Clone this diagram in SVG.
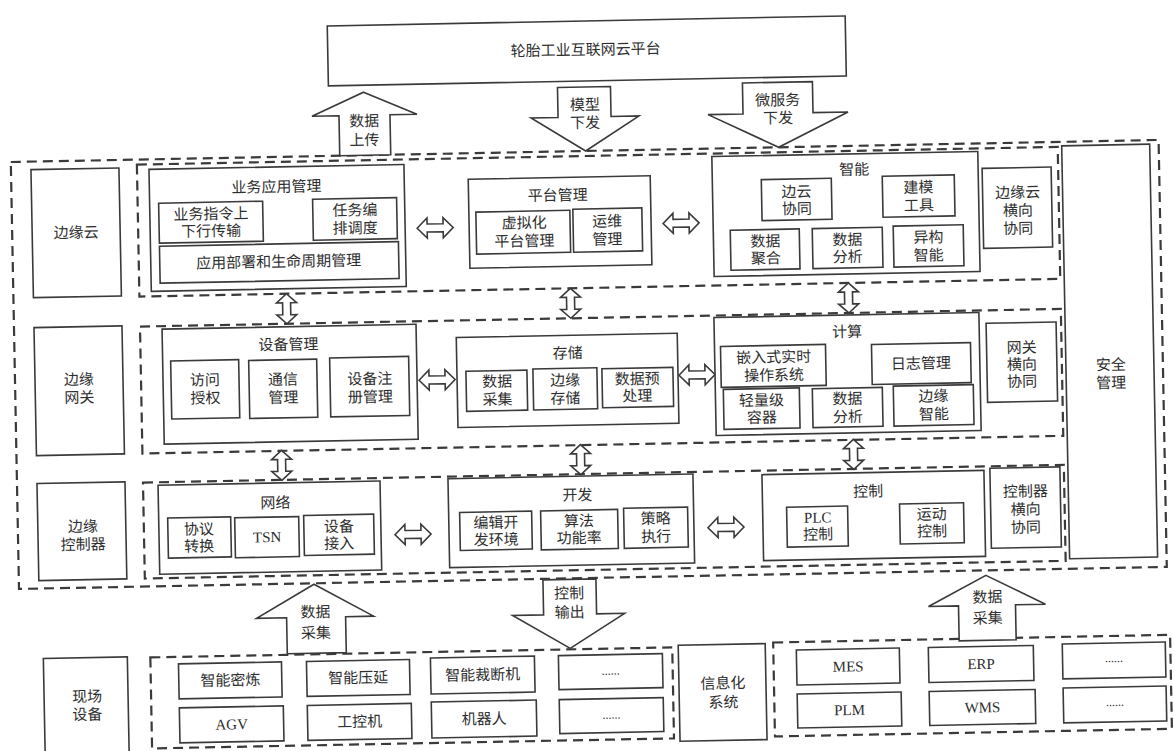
<svg xmlns="http://www.w3.org/2000/svg" width="1174" height="751" viewBox="0 0 1174 751">
<style>
.b{fill:none;stroke:#3a3a3a;stroke-width:1.6}
.d{fill:none;stroke:#3a3a3a;stroke-width:2.2;stroke-dasharray:10 6}
.a{fill:#fff;stroke:#3a3a3a;stroke-width:1.6;stroke-linejoin:miter}
.t{font-family:'Liberation Serif','Noto Sans CJK SC',serif;font-size:15px;fill:#2e2e2e;text-anchor:middle;dominant-baseline:central}
.dots{font-size:12px}
</style>
<defs>
<path id="ha" class="a" d="M-18 0 L-8 -10 L-8 -4 L8 -4 L8 -10 L18 0 L8 10 L8 4 L-8 4 L-8 10 Z"/>
<path id="va" class="a" d="M0 -15 L10 -6 L4 -6 L4 6 L10 6 L0 15 L-10 6 L-4 6 L-4 -6 L-10 -6 Z"/>
</defs>
<rect width="1174" height="751" fill="#fff"/>
<g transform="rotate(-1.1 587 375)">
<g id="nodes">
<g id="cloud-platform"><rect class="b" x="334" y="21" width="518" height="60"/><text class="t" x="592" y="50">轮胎工业互联网云平台</text></g>

<g id="edge-zone"><rect class="d" x="15" y="151" width="1148" height="427"/></g>
<g id="row-cloud"><rect class="d" x="141" y="156" width="921" height="132"/></g>
<g id="row-gateway"><rect class="d" x="141" y="318" width="921" height="127"/></g>
<g id="row-controller"><rect class="d" x="141" y="474" width="921" height="96"/></g>

<g id="label-edge-cloud"><rect class="b" x="35" y="159" width="88" height="128"/><text class="t" x="79" y="223">边缘云</text></g>
<g id="label-edge-gateway"><rect class="b" x="35" y="317" width="88" height="128"/><text class="t"><tspan x="79" y="370">边缘</tspan><tspan x="79" y="388">网关</tspan></text></g>
<g id="label-edge-controller"><rect class="b" x="35" y="473" width="88" height="97"/><text class="t"><tspan x="80" y="517">边缘</tspan><tspan x="80" y="535">控制器</tspan></text></g>

<g id="app-mgmt"><rect class="b" x="153" y="161" width="255" height="122"/><text class="t" x="280" y="181">业务应用管理</text>
 <g id="biz-cmd"><rect class="b" x="162" y="195" width="104" height="40"/><text class="t"><tspan x="214" y="207">业务指令上</tspan><tspan x="214" y="224">下行传输</tspan></text></g>
 <g id="task-sched"><rect class="b" x="316" y="194" width="84" height="41"/><text class="t"><tspan x="358" y="206">任务编</tspan><tspan x="358" y="224">排调度</tspan></text></g>
 <g id="app-deploy"><rect class="b" x="162" y="238" width="239" height="37"/><text class="t" x="281" y="256">应用部署和生命周期管理</text></g>
</g>

<g id="platform-mgmt"><rect class="b" x="472" y="177" width="182" height="89"/><text class="t" x="561" y="195">平台管理</text>
 <g id="virt"><rect class="b" x="479" y="210" width="94" height="42"/><text class="t"><tspan x="527" y="222">虚拟化</tspan><tspan x="527" y="240">平台管理</tspan></text></g>
 <g id="ops"><rect class="b" x="576" y="209" width="69" height="43"/><text class="t"><tspan x="610" y="222">运维</tspan><tspan x="610" y="240">管理</tspan></text></g>
</g>

<g id="intelligence"><rect class="b" x="716" y="159" width="266" height="120"/><text class="t" x="858" y="175">智能</text>
 <g id="edge-cloud-coop"><rect class="b" x="765" y="183" width="70" height="41"/><text class="t"><tspan x="800" y="196">边云</tspan><tspan x="800" y="213">协同</tspan></text></g>
 <g id="modeling"><rect class="b" x="886" y="182" width="72" height="41"/><text class="t"><tspan x="922" y="194">建模</tspan><tspan x="922" y="212">工具</tspan></text></g>
 <g id="data-agg"><rect class="b" x="733" y="233" width="69" height="40"/><text class="t"><tspan x="768" y="245">数据</tspan><tspan x="768" y="262">聚合</tspan></text></g>
 <g id="data-analysis-1"><rect class="b" x="815" y="233" width="70" height="40"/><text class="t"><tspan x="850" y="245">数据</tspan><tspan x="850" y="262">分析</tspan></text></g>
 <g id="hetero"><rect class="b" x="896" y="232" width="70" height="41"/><text class="t"><tspan x="931" y="244">异构</tspan><tspan x="931" y="262">智能</tspan></text></g>
</g>

<g id="cloud-horiz"><rect class="b" x="986" y="176" width="69" height="80"/><text class="t"><tspan x="1021" y="201">边缘云</tspan><tspan x="1021" y="219">横向</tspan><tspan x="1021" y="237">协同</tspan></text></g>

<g id="security"><rect class="b" x="1066" y="155" width="88" height="413"/><text class="t"><tspan x="1111" y="375">安全</tspan><tspan x="1111" y="393">管理</tspan></text></g>

<g id="device-mgmt"><rect class="b" x="163" y="321" width="254" height="115"/><text class="t" x="289" y="339">设备管理</text>
 <g id="access"><rect class="b" x="171" y="353" width="68" height="58"/><text class="t"><tspan x="205" y="373">访问</tspan><tspan x="205" y="391">授权</tspan></text></g>
 <g id="comm"><rect class="b" x="249" y="354" width="68" height="58"/><text class="t"><tspan x="283" y="374">通信</tspan><tspan x="283" y="392">管理</tspan></text></g>
 <g id="dev-reg"><rect class="b" x="330" y="353" width="79" height="59"/><text class="t"><tspan x="370" y="375">设备注</tspan><tspan x="370" y="393">册管理</tspan></text></g>
</g>

<g id="storage"><rect class="b" x="457" y="335" width="221" height="90"/><text class="t" x="568" y="353">存储</text>
 <g id="data-collect"><rect class="b" x="466" y="369" width="61" height="40"/><text class="t"><tspan x="497" y="380">数据</tspan><tspan x="497" y="398">采集</tspan></text></g>
 <g id="edge-store"><rect class="b" x="533" y="368" width="64" height="41"/><text class="t"><tspan x="565" y="380">边缘</tspan><tspan x="565" y="398">存储</tspan></text></g>
 <g id="preproc"><rect class="b" x="602" y="369" width="71" height="39"/><text class="t"><tspan x="637" y="380">数据预</tspan><tspan x="637" y="397">处理</tspan></text></g>
</g>

<g id="compute"><rect class="b" x="715" y="320" width="265" height="118"/><text class="t" x="848" y="337">计算</text>
 <g id="rtos"><rect class="b" x="721" y="349" width="105" height="41"/><text class="t"><tspan x="774" y="361">嵌入式实时</tspan><tspan x="774" y="379">操作系统</tspan></text></g>
 <g id="log"><rect class="b" x="872" y="350" width="99" height="40"/><text class="t" x="921" y="370">日志管理</text></g>
 <g id="container"><rect class="b" x="723" y="392" width="76" height="40"/><text class="t"><tspan x="761" y="404">轻量级</tspan><tspan x="761" y="421">容器</tspan></text></g>
 <g id="data-analysis-2"><rect class="b" x="812" y="393" width="70" height="39"/><text class="t"><tspan x="847" y="404">数据</tspan><tspan x="847" y="422">分析</tspan></text></g>
 <g id="edge-intel"><rect class="b" x="893" y="392" width="80" height="40"/><text class="t"><tspan x="933" y="403">边缘</tspan><tspan x="933" y="421">智能</tspan></text></g>
</g>

<g id="gateway-horiz"><rect class="b" x="987" y="331" width="70" height="79"/><text class="t"><tspan x="1022" y="356">网关</tspan><tspan x="1022" y="373">横向</tspan><tspan x="1022" y="390">协同</tspan></text></g>

<g id="network"><rect class="b" x="156" y="477" width="222" height="89"/><text class="t" x="273" y="497">网络</text>
 <g id="protocol"><rect class="b" x="165" y="510" width="63" height="40"/><text class="t"><tspan x="196" y="522">协议</tspan><tspan x="196" y="539">转换</tspan></text></g>
 <g id="tsn"><rect class="b" x="232" y="511" width="64" height="40"/><text class="t" x="264" y="531">TSN</text></g>
 <g id="dev-access"><rect class="b" x="301" y="510" width="70" height="40"/><text class="t"><tspan x="336" y="522">设备</tspan><tspan x="336" y="539">接入</tspan></text></g>
</g>

<g id="develop"><rect class="b" x="446" y="476" width="245" height="89"/><text class="t" x="575" y="495">开发</text>
 <g id="ide"><rect class="b" x="457" y="510" width="72" height="38"/><text class="t"><tspan x="493" y="521">编辑开</tspan><tspan x="493" y="538">发环境</tspan></text></g>
 <g id="algo"><rect class="b" x="538" y="510" width="77" height="39"/><text class="t"><tspan x="576" y="521">算法</tspan><tspan x="576" y="538">功能率</tspan></text></g>
 <g id="policy"><rect class="b" x="621" y="509" width="64" height="40"/><text class="t"><tspan x="653" y="520">策略</tspan><tspan x="653" y="538">执行</tspan></text></g>
</g>

<g id="control"><rect class="b" x="760" y="478" width="222" height="86"/><text class="t" x="866" y="497">控制</text>
 <g id="plc"><rect class="b" x="784" y="511" width="61" height="40"/><text class="t"><tspan x="815" y="522">PLC</tspan><tspan x="815" y="539">控制</tspan></text></g>
 <g id="motion"><rect class="b" x="897" y="510" width="64" height="40"/><text class="t"><tspan x="929" y="521">运动</tspan><tspan x="929" y="538">控制</tspan></text></g>
</g>

<g id="controller-horiz"><rect class="b" x="988" y="476" width="70" height="80"/><text class="t"><tspan x="1023" y="500">控制器</tspan><tspan x="1023" y="518">横向</tspan><tspan x="1023" y="536">协同</tspan></text></g>

<g id="field-label"><rect class="b" x="38" y="648" width="84" height="140"/><text class="t"><tspan x="81" y="687">现场</tspan><tspan x="81" y="705">设备</tspan></text></g>
<g id="field-devices"><rect class="d" x="145" y="649" width="522" height="91"/>
 <g id="mixer"><rect class="b" x="173" y="656" width="103" height="35"/><text class="t" x="224.5" y="673.5">智能密炼</text></g>
 <g id="calender"><rect class="b" x="301" y="656" width="103" height="35"/><text class="t" x="352.5" y="673.5">智能压延</text></g>
 <g id="cutter"><rect class="b" x="425" y="655" width="104" height="36"/><text class="t" x="477" y="673">智能裁断机</text></g>
 <g id="field-more-1"><rect class="b" x="553" y="655" width="104" height="34"/><text class="t dots" x="605" y="671">......</text></g>
 <g id="agv"><rect class="b" x="173" y="700" width="104" height="35"/><text class="t" x="225" y="717.5">AGV</text></g>
 <g id="ipc"><rect class="b" x="301" y="700" width="104" height="35"/><text class="t" x="353" y="717.5">工控机</text></g>
 <g id="robot"><rect class="b" x="425" y="699" width="105" height="36"/><text class="t" x="477.5" y="717">机器人</text></g>
 <g id="field-more-2"><rect class="b" x="553" y="699" width="104" height="34"/><text class="t dots" x="605" y="715">......</text></g>
</g>

<g id="info-label"><rect class="b" x="673" y="647" width="87" height="96"/><text class="t"><tspan x="717" y="686">信息化</tspan><tspan x="717" y="705">系统</tspan></text></g>
<g id="info-systems"><rect class="d" x="768" y="646" width="397" height="94"/>
 <g id="mes"><rect class="b" x="791" y="654" width="103" height="35"/><text class="t" x="842.5" y="671.5">MES</text></g>
 <g id="erp"><rect class="b" x="923" y="654" width="105" height="35"/><text class="t" x="975.5" y="671.5">ERP</text></g>
 <g id="info-more-1"><rect class="b" x="1057" y="653" width="103" height="35"/><text class="t dots" x="1108.5" y="668">......</text></g>
 <g id="plm"><rect class="b" x="791" y="698" width="104" height="34"/><text class="t" x="843" y="715">PLM</text></g>
 <g id="wms"><rect class="b" x="923" y="698" width="106" height="34"/><text class="t" x="976" y="715">WMS</text></g>
 <g id="info-more-2"><rect class="b" x="1057" y="697" width="103" height="35"/><text class="t dots" x="1108.5" y="712">......</text></g>
</g>
</g>

<g id="connectors">
 <g id="arrow-upload"><polygon class="a" points="369,88 422,111 395,111 395,151 344,151 344,111 317,111"/><text class="t"><tspan x="369" y="117">数据</tspan><tspan x="369" y="136">上传</tspan></text></g>
 <g id="arrow-model"><polygon class="a" points="563,87 616,87 616,117 644,117 590,151 536,117 563,117"/><text class="t"><tspan x="590" y="105">模型</tspan><tspan x="590" y="123">下发</tspan></text></g>
 <g id="arrow-micro"><polygon class="a" points="748,86 818,86 818,117 853,117 783,151 713,117 748,117"/><text class="t"><tspan x="783" y="104">微服务</tspan><tspan x="783" y="122">下发</tspan></text></g>

 <use href="#ha" x="438" y="225"/>
 <use href="#ha" x="684" y="225"/>
 <use href="#ha" x="437" y="377"/>
 <use href="#ha" x="697" y="377"/>
 <use href="#ha" x="410" y="531"/>
 <use href="#ha" x="723" y="530"/>

 <use href="#va" x="288" y="303"/>
 <use href="#va" x="572" y="303"/>
 <use href="#va" x="850" y="303"/>
 <use href="#va" x="280" y="459.5"/>
 <use href="#va" x="579" y="459.5"/>
 <use href="#va" x="852" y="459.5"/>

 <g id="arrow-collect-left"><polygon class="a" points="310,579 369,612 341,612 341,648 282,648 282,612 252,612"/><text class="t"><tspan x="311" y="607">数据</tspan><tspan x="311" y="628">采集</tspan></text></g>
 <g id="arrow-control-out"><polygon class="a" points="539,579 592,579 592,614 620,614 565,648 508,614 539,614"/><text class="t"><tspan x="565" y="593">控制</tspan><tspan x="565" y="612">输出</tspan></text></g>
 <g id="arrow-collect-right"><polygon class="a" points="982,583 1041,613 1011,613 1011,648 954,648 954,613 924,613"/><text class="t"><tspan x="983" y="605">数据</tspan><tspan x="983" y="626">采集</tspan></text></g>
</g>
</g>
</svg>
